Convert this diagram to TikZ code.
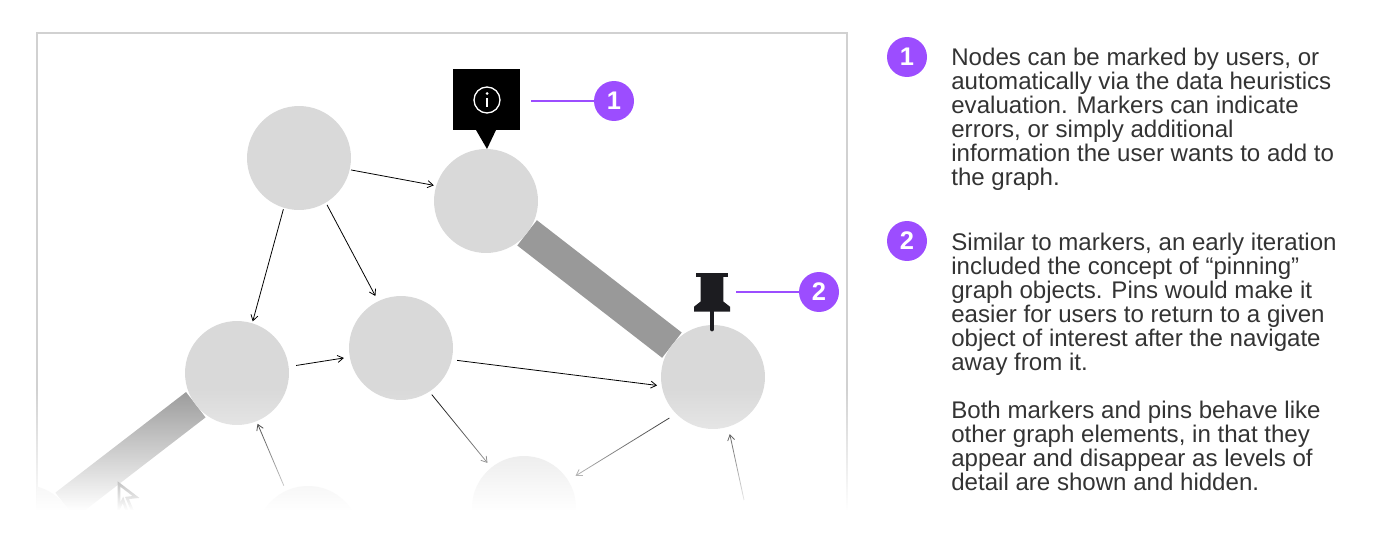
\documentclass[tikz,border=0pt]{standalone}
\usepackage{fontspec}
\setmainfont{Liberation Sans}
\usetikzlibrary{arrows.meta,backgrounds,fadings}

\definecolor{purplemark}{HTML}{9C4DFF}
\definecolor{bodytext}{HTML}{333333}
\definecolor{pinblack}{HTML}{1C1C20}

\tikzfading[name=fadeout, top color=transparent!100, bottom color=transparent!0]

\tikzset{
  graphnode/.style={circle,fill=black!15,minimum size=2.08cm,inner sep=0pt,outer sep=0pt},
  thickedge/.style={black!40,line width=0.64cm},
  thinedge/.style={->,line width=0.45pt},
  badge/.style={circle,fill=purplemark,text=white,minimum size=0.8cm,inner sep=0pt,font=\fontsize{14.5}{16}\selectfont\bfseries},
  leader/.style={purplemark,line width=0.85pt},
  para/.style={anchor=north west,align=left,inner sep=0pt,text=bodytext,font=\fontsize{13.7}{13.66}\selectfont}
}

\begin{document}
\begin{tikzpicture}[x=0.02cm,y=-0.02cm,>={Straight Barb[length=3.2pt,width=4pt]}]
  \useasboundingbox (0,0) rectangle (1400,534);

  \begin{scope}
    \clip (37,33) rectangle (847,534);
    \node[graphnode] (top) at (299,158) {};
    \node[graphnode] (marked) at (486,201) {};
    \node[graphnode] (left) at (237,373) {};
    \node[graphnode] (middle) at (401,348) {};
    \node[graphnode] (pinned) at (713,377) {};
    \node[graphnode] (lowmid) at (524,508) {};
    \node[graphnode] (lowleft) at (308,538) {};
    \node[graphnode] (corner) at (24,537) {};
  \end{scope}

  \begin{pgfonlayer}{background}
    \draw[black!18,line width=0.6pt] (37,510) -- (37,33) -- (847,33) -- (847,510);
    \clip (37,33) rectangle (847,534);
    \draw[thickedge] (marked) -- (pinned);
    \draw[thickedge] (left) -- (corner);
  \end{pgfonlayer}

  \coordinate (offpage) at (744,500);
  \draw[thinedge,shorten <=0.8pt,shorten >=1.4pt] (top.-13) -- (marked.163);
  \draw[thinedge,shorten <=0.9pt,shorten >=1.1pt] (top.-107.4) -- (left.73.9);
  \draw[thinedge,shorten <=1.5pt,shorten >=3.4pt] (top.-59.2) -- (middle.116.6);
  \draw[thinedge,shorten <=4.3pt,shorten >=3.4pt] (left.7.7) -- (middle.-170);
  \draw[thinedge,shorten <=3.1pt,shorten >=2.7pt] (middle.-13) -- (pinned.-170.9);
  \draw[thinedge,shorten <=2.2pt,shorten >=3.4pt] (middle.-57.4) -- (lowmid.129.4);
  \draw[thinedge,shorten <=4.6pt,shorten >=5pt] (pinned.-135.7) -- (lowmid.32.9);
  \draw[thinedge,shorten <=3.2pt,shorten >=1.6pt] (lowleft.115.7) -- (left.-68.6);
  \draw[thinedge,shorten >=4.3pt] (offpage) -- (pinned.-73.4);

  \draw[fill=white,draw=black,line width=1.5pt,line join=miter]
    (119,484) -- (136,497) -- (127,498) -- (133,512) -- (128,514) -- (123,500) -- (119,508) -- cycle;

  \fill[white,path fading=fadeout] (28,388) rectangle (858,510);
  \fill[white] (28,510) rectangle (858,534);

  \fill[black] (453,69) rectangle (520,130);
  \fill[black] (476,130) -- (496,130) -- (487,149) -- cycle;
  \draw[white,line width=0.75pt] (487,100) circle (13);
  \fill[white] (487,93.5) circle (1.5);
  \fill[white] (485.8,97.5) rectangle (488.2,107);

  \fill[pinblack] (696.3,272.5) rectangle (727.7,277);
  \fill[pinblack] (700.7,277) -- (723.3,277) -- (723.3,301.5) -- (730,306.7) -- (730,311.7)
    -- (694,311.7) -- (694,306.7) -- (700.7,301.5) -- cycle;
  \draw[pinblack,line width=2.7pt,line cap=round] (712,311) -- (712,329);

  \node[badge] (markone) at (614,101) {1};
  \node[badge] (marktwo) at (819,292) {2};
  \coordinate (markerend) at (531,101);
  \coordinate (pinend) at (736,292);
  \draw[leader] (markerend) -- (markone);
  \draw[leader] (pinend) -- (marktwo);

  \node[badge] (noteone) at (907,57) {1};
  \node[badge] (notetwo) at (907,241) {2};

  \node[para] (paraone) at (951,47.5) {Nodes can be marked by users, or\\automatically via the data heuristics\\evaluation. Markers can indicate\\errors, or simply additional\\information the user wants to add to\\the graph.};
  \node[para] (paratwo) at (951,232.5) {Similar to markers, an early iteration\\included the concept of “pinning”\\graph objects. Pins would make it\\easier for users to return to a given\\object of interest after the navigate\\away from it.};
  \node[para] (parathree) at (951,400.5) {Both markers and pins behave like\\other graph elements, in that they\\appear and disappear as levels of\\detail are shown and hidden.};
\end{tikzpicture}
\end{document}
